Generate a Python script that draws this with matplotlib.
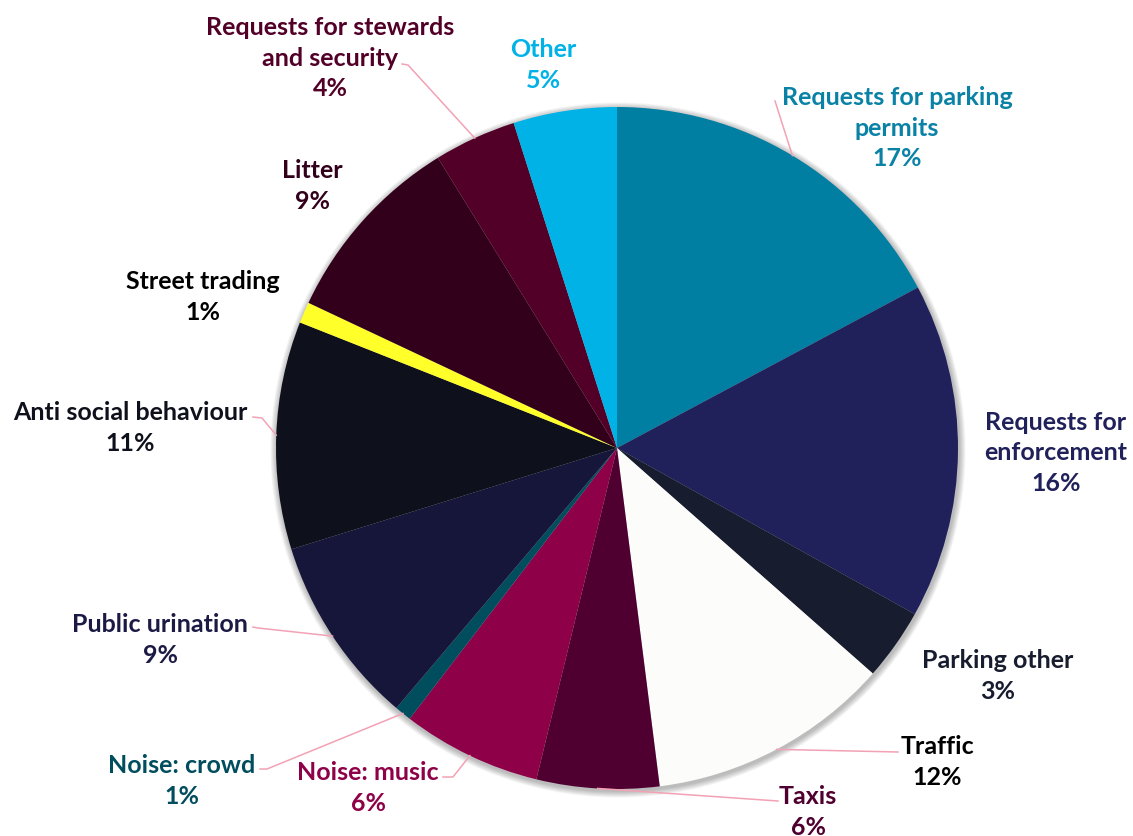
import numpy as np
import matplotlib
matplotlib.use("Agg")
import matplotlib.pyplot as plt
from matplotlib.patches import Circle

# data (clockwise from 12 o'clock)
categories = ["Requests for parking\npermits", "Requests for\nenforcement", "Parking other",
              "Traffic", "Taxis", "Noise: music", "Noise: crowd", "Public urination",
              "Anti social behaviour", "Street trading", "Litter",
              "Requests for stewards\nand security", "Other"]
shares = [17.2, 15.9, 3.4, 11.5, 5.8, 6.6, 0.8, 9.0, 10.8, 1.0, 9.2, 3.9, 4.9]
pct_labels = ["17%", "16%", "3%", "12%", "6%", "6%", "1%", "9%", "11%", "1%", "9%", "4%", "5%"]

slice_colors = ["#007FA3", "#20215A", "#171C2E", "#FCFCFA", "#4F0030", "#8E0048", "#004D5E",
                "#15163A", "#0E111C", "#FFFF2A", "#32001B", "#520028", "#00B2E6"]
text_colors = ["#0A82A6", "#20215A", "#171C2E", "#000000", "#4F0030", "#8E0048", "#004D5E",
               "#1B1A45", "#0E111C", "#000000", "#32001B", "#520028", "#00B2E6"]

# layout in pixel coordinates (y measured from the top)
W, H = 1133, 837
cx, cy, R = 617, 449, 341
label_pos = [(897, 128), (1056, 453), (998, 676), (937, 762), (808, 812), (368, 788),
             (182, 781), (160, 640), (130, 428), (203, 297), (312, 186), (330, 58), (543, 65)]
# leader line ends near the labels (None = no leader)
leader_ends = [[(775, 102)], None, None, [(898, 753)], [(778, 802)],
               [(443, 778), (453, 778)], [(260, 770), (267, 770)], [(253, 628), (258, 629)],
               [(253, 418), (262, 419)], None, None, [(402, 65), (408, 66)], None]

plt.rcParams["font.family"] = ["Lato", "DejaVu Sans"]

fig = plt.figure(figsize=(W / 100, H / 100), dpi=100)
ax = fig.add_axes([0, 0, 1, 1])

# soft shadow around the pie
for i in range(8):
    ax.add_patch(Circle((cx + 1, H - cy - 2), R + 1 + i * 0.8, color="#000000",
                        alpha=0.035, lw=0, zorder=0))

ax.pie(shares, colors=slice_colors, startangle=90, counterclock=False,
       center=(cx, H - cy), radius=R, wedgeprops=dict(linewidth=0))

ax.set_xlim(0, W)
ax.set_ylim(0, H)
ax.set_aspect("equal")
ax.axis("off")

# leader lines start at the middle of each slice's edge
cum = np.cumsum([0] + shares)
total = cum[-1]
for k, ends in enumerate(leader_ends):
    if ends is None:
        continue
    theta = np.deg2rad((cum[k] + cum[k + 1]) / 2 / total * 360)
    x0 = cx + R * np.sin(theta)
    y0 = cy - R * np.cos(theta)
    pts = [(x0, y0)] + ends[::-1]
    ax.plot([p[0] for p in pts], [H - p[1] for p in pts], color="#F2A2B4", lw=1.1, zorder=3)

for k, (lx, ly) in enumerate(label_pos):
    ax.text(lx, H - ly, categories[k] + "\n" + pct_labels[k], ha="center", va="center",
            fontsize=18, fontweight="bold", color=text_colors[k], linespacing=1.4)

fig.savefig("out.png", dpi=100, facecolor="white")
